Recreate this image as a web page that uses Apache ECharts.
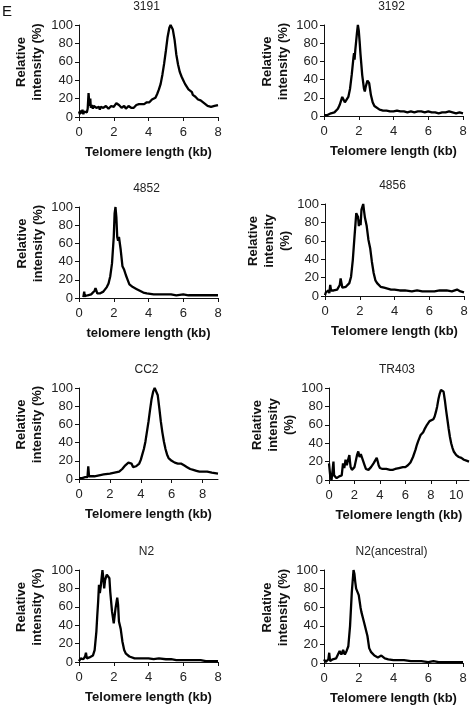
<!DOCTYPE html>
<html><head><meta charset="utf-8">
<script src="https://cdn.jsdelivr.net/npm/echarts@6/dist/echarts.min.js"></script>
<style>html,body{margin:0;padding:0;background:#fff}#c{width:473px;height:707px}</style>
</head><body><div id="c"></div>
<script>
// ---- data ----
const titles = ['3191','3192','4852','4856','CC2','TR403','N2','N2(ancestral)'];
const xNames = ['Telomere length (kb)','Telomere length (kb)','telomere length (kb)','Telomere length (kb)','Telomere length (kb)','Telomere length (kb)','Telomere length (kb)','Telomere length (kb)'];
const yNames = ['Relative\nintensity (%)','Relative\nintensity (%)','Relative\nintensity (%)','Relative\nintensity\n(%)','Relative\nintensity (%)','Relative\nintensity\n(%)','Relative\nintensity (%)','Relative\nintensity (%)'];
const xMax = [8,8,8,8,9,11,8,8];
const xTicks8 = [0,2,4,6,8];
const xTicks11 = [0,2,4,6,8,10];
const yTicks = [0,20,40,60,80,100];

const s3191 = [[0,6],[0.05,3],[0.1,7],[0.15,4],[0.2,8],[0.25,3],[0.3,6],[0.35,4],[0.4,7],[0.45,5],[0.5,9],[0.55,26],[0.58,18],[0.62,12],[0.65,20],[0.68,10],[0.75,13],[0.8,9],[0.85,12],[0.9,10],[0.95,13],[1.0,10],[1.05,8],[1.1,9],[1.15,11],[1.2,8],[1.25,11],[1.3,9],[1.35,12],[1.4,10],[1.45,11],[1.5,9],[1.55,12],[1.6,10],[1.65,12],[1.7,9],[1.75,11],[1.8,10],[1.85,12],[1.9,11],[1.95,13],[2.0,11],[2.05,12],[2.1,13],[2.15,15],[2.2,17],[2.25,14],[2.3,13],[2.35,11],[2.4,12],[2.45,10],[2.5,11],[2.55,9],[2.6,12],[2.65,10],[2.7,9],[2.75,11],[2.8,10],[2.85,12],[2.9,11],[2.95,13],[3.0,10],[3.05,12],[3.1,11],[3.15,10],[3.2,12],[3.25,11],[3.3,13],[3.35,11],[3.4,12],[3.45,14],[3.5,13],[3.55,12],[3.6,14],[3.65,13],[3.7,15],[3.75,14],[3.8,15],[3.85,14],[3.9,16],[3.95,15],[4.0,17],[4.05,16],[4.1,18],[4.15,17],[4.2,19],[4.25,18],[4.3,20],[4.4,21],[4.5,25],[4.6,30],[4.7,36],[4.8,46],[4.9,58],[5.0,72],[5.1,87],[5.2,97],[5.27,100],[5.33,100],[5.4,95],[5.5,84],[5.6,68],[5.7,57],[5.8,49],[5.9,44],[6.0,40],[6.1,36],[6.2,33],[6.3,30],[6.4,28],[6.5,27],[6.55,24],[6.6,25],[6.7,22],[6.8,21],[6.85,19],[6.9,20],[7.0,18],[7.05,16],[7.1,17],[7.2,15],[7.3,14],[7.4,12],[7.5,11],[7.6,11],[7.7,12],[7.8,12],[7.9,13],[8.0,13]];
const s3192 = [[0,1],[0.1,2],[0.2,1],[0.3,2],[0.4,3],[0.5,3],[0.6,4],[0.7,6],[0.8,8],[0.9,12],[1.0,18],[1.05,21],[1.1,20],[1.2,15],[1.25,13],[1.3,15],[1.4,21],[1.5,30],[1.6,46],[1.7,65],[1.73,69],[1.76,62],[1.8,72],[1.85,82],[1.9,92],[1.95,100],[2.0,94],[2.05,82],[2.1,68],[2.2,45],[2.3,30],[2.35,27],[2.4,32],[2.5,39],[2.55,41],[2.6,36],[2.7,23],[2.8,15],[2.9,11],[3.0,9],[3.2,7],[3.4,6],[3.6,6],[3.8,5],[4.0,5],[4.2,6],[4.4,5],[4.6,5],[4.8,4],[5.0,5],[5.2,4],[5.4,5],[5.6,5],[5.8,4],[6.0,5],[6.2,4],[6.4,4],[6.6,3],[6.8,4],[7.0,4],[7.2,5],[7.4,4],[7.6,3],[7.8,4],[8.0,3]];
const s4852 = [[0.25,1],[0.28,1],[0.3,7],[0.33,2],[0.4,2],[0.5,3],[0.6,3],[0.7,4],[0.8,5],[0.9,8],[0.95,11],[1.0,8],[1.05,5],[1.1,5],[1.2,5],[1.3,5],[1.4,7],[1.5,9],[1.6,12],[1.7,16],[1.8,24],[1.9,38],[2.0,67],[2.05,93],[2.1,100],[2.15,89],[2.2,67],[2.25,63],[2.3,67],[2.35,65],[2.4,53],[2.5,35],[2.6,31],[2.7,25],[2.8,20],[2.9,15],[3.0,13],[3.1,12],[3.2,11],[3.3,10],[3.4,9],[3.5,8],[3.7,6],[3.9,5],[4.0,4],[4.3,4],[4.6,4],[5.0,4],[5.3,4],[5.6,3],[6.0,4],[6.3,3],[6.6,3],[7.0,3],[7.3,3],[7.6,3],[8.0,3]];
const s4856 = [[0,1],[0.05,4],[0.1,2],[0.15,5],[0.2,6],[0.25,3],[0.3,12],[0.35,6],[0.4,4],[0.5,6],[0.6,5],[0.7,7],[0.8,8],[0.85,12],[0.9,19],[0.95,14],[1.0,9],[1.1,10],[1.2,10],[1.3,11],[1.4,14],[1.5,21],[1.6,39],[1.7,65],[1.8,90],[1.85,92],[1.9,86],[1.95,76],[2.0,83],[2.05,77],[2.1,94],[2.2,100],[2.25,92],[2.3,85],[2.4,76],[2.5,61],[2.6,52],[2.7,37],[2.8,25],[2.9,17],[3.0,14],[3.1,12],[3.2,10],[3.4,9],[3.6,8],[3.8,7],[4.0,7],[4.3,6],[4.6,6],[5.0,5],[5.3,6],[5.6,5],[6.0,5],[6.3,5],[6.6,6],[7.0,6],[7.3,5],[7.6,7],[7.8,5],[8.0,4]];
const sCC2 = [[0,1],[0.2,1],[0.4,2],[0.55,2],[0.6,14],[0.65,3],[0.8,3],[1.0,3],[1.3,4],[1.6,5],[2.0,6],[2.3,7],[2.6,8],[2.8,11],[3.0,15],[3.1,16],[3.2,18],[3.3,20],[3.4,17],[3.5,13],[3.6,13],[3.7,14],[3.8,15],[3.9,17],[4.0,21],[4.1,27],[4.2,33],[4.3,41],[4.4,52],[4.5,63],[4.6,76],[4.7,88],[4.8,96],[4.9,100],[5.0,99],[5.1,92],[5.2,78],[5.3,63],[5.4,51],[5.5,41],[5.6,33],[5.7,27],[5.8,23],[5.9,21],[6.0,20],[6.2,18],[6.4,17],[6.6,17],[6.8,15],[7.0,13],[7.2,11],[7.4,10],[7.6,9],[7.8,8],[8.0,8],[8.3,8],[8.6,7],[9.0,6]];
const sTR403 = [[0,18],[0.1,4],[0.2,0],[0.3,13],[0.35,20],[0.4,5],[0.5,3],[0.6,2],[0.7,3],[0.8,4],[0.9,3],[1.0,5],[1.1,18],[1.2,13],[1.3,22],[1.4,16],[1.5,22],[1.6,27],[1.65,20],[1.7,14],[1.8,11],[1.9,13],[2.0,14],[2.1,16],[2.2,27],[2.3,31],[2.4,25],[2.5,28],[2.6,24],[2.7,20],[2.8,16],[2.9,12],[3.0,10],[3.1,11],[3.2,12],[3.3,14],[3.4,16],[3.5,18],[3.6,20],[3.75,24],[3.85,19],[3.9,16],[4.0,13],[4.2,12],[4.5,12],[4.8,11],[5.0,11],[5.2,12],[5.5,13],[5.8,14],[6.0,14],[6.2,16],[6.4,19],[6.6,25],[6.8,33],[6.9,38],[7.0,42],[7.2,49],[7.4,52],[7.5,55],[7.7,60],[7.9,64],[8.0,65],[8.2,66],[8.3,69],[8.4,74],[8.5,80],[8.6,88],[8.7,94],[8.8,98],[8.9,99],[9.0,96],[9.1,87],[9.2,76],[9.3,66],[9.4,56],[9.5,47],[9.6,40],[9.7,35],[9.8,31],[10.0,27],[10.2,25],[10.4,24],[10.6,22],[10.8,21],[11.0,20]];
const sN2 = [[0,1],[0.05,3],[0.1,4],[0.15,2],[0.2,5],[0.25,3],[0.3,5],[0.35,6],[0.4,10],[0.45,4],[0.5,5],[0.6,5],[0.7,6],[0.8,7],[0.9,13],[1.0,33],[1.05,50],[1.1,65],[1.15,84],[1.2,75],[1.25,82],[1.3,91],[1.35,100],[1.4,91],[1.45,80],[1.5,89],[1.55,92],[1.6,95],[1.7,95],[1.75,91],[1.8,76],[1.9,55],[2.0,42],[2.05,44],[2.1,58],[2.2,70],[2.25,62],[2.3,44],[2.4,36],[2.5,22],[2.6,13],[2.7,9],[2.8,7],[2.9,6],[3.0,5],[3.2,4],[3.4,4],[3.6,4],[3.8,4],[4.0,4],[4.3,3],[4.6,4],[5.0,3],[5.3,3],[5.6,2],[6.0,2],[6.3,2],[6.6,2],[7.0,2],[7.3,1],[7.6,1],[8.0,1]];
const sN2anc = [[0,4],[0.05,2],[0.1,1],[0.2,3],[0.25,4],[0.3,11],[0.35,2],[0.4,3],[0.5,4],[0.6,4],[0.7,5],[0.8,7],[0.9,13],[1.0,9],[1.1,14],[1.2,9],[1.3,13],[1.4,18],[1.5,40],[1.6,76],[1.7,100],[1.75,96],[1.8,87],[1.85,80],[1.9,82],[2.0,73],[2.1,60],[2.15,55],[2.2,56],[2.3,44],[2.4,42],[2.5,29],[2.6,16],[2.7,12],[2.8,10],[2.9,8],[3.0,7],[3.1,6],[3.2,7],[3.3,8],[3.4,7],[3.5,5],[3.7,4],[4.0,3],[4.3,3],[4.6,3],[5.0,2],[5.3,2],[5.6,2],[6.0,1],[6.3,2],[6.6,1],[7.0,1],[7.3,1],[7.6,1],[8.0,1]];
const seriesData = [s3191,s3192,s4852,s4856,sCC2,sTR403,sN2,sN2anc];

// ---- layout ----
const grids = [
  {left:79, top:25, width:139, height:92},
  {left:324, top:25, width:139, height:91},
  {left:79, top:207, width:139, height:91},
  {left:325, top:204, width:139, height:92},
  {left:79, top:388, width:139, height:91},
  {left:329, top:388, width:140, height:92},
  {left:79, top:570, width:139, height:92},
  {left:324, top:570, width:139, height:93}
];
const yNameGap = [34,33,33,30,34,29,34,33];
const FONT = '"Liberation Sans", Arial, sans-serif';
const axisCol = '#111';

const chart = echarts.init(document.getElementById('c'), null, {renderer:'canvas'});
const option = {
  animation:false,
  backgroundColor:'#fff',
  grid: grids.map(g => ({left:g.left, top:g.top, width:g.width, height:g.height, containLabel:false})),
  xAxis: grids.map((g,i) => {
    const ticks = xMax[i] === 11 ? xTicks11 : xTicks8;
    return {
      type:'value', gridIndex:i, min:0, max:xMax[i],
      name:xNames[i], nameLocation:'middle', nameGap:29,
      nameTextStyle:{fontFamily:FONT, fontWeight:'bold', fontSize:13, color:'#111'},
      axisLine:{show:true, lineStyle:{color:axisCol, width:1}},
      axisTick:{show:true, length:4, lineStyle:{color:axisCol, width:1}, customValues:ticks},
      axisLabel:{fontFamily:FONT, fontSize:13, color:'#222', margin:9, customValues:ticks},
      splitLine:{show:false}
    };
  }),
  yAxis: grids.map((g,i) => ({
    type:'value', gridIndex:i, min:0, max:100,
    name:yNames[i], nameLocation:'middle', nameRotate:90, nameGap:yNameGap[i],
    nameTextStyle:{fontFamily:FONT, fontWeight:'bold', fontSize:13, color:'#111', lineHeight:16, padding:[0,0,0,18]},
    axisLine:{show:true, lineStyle:{color:axisCol, width:1}},
    axisTick:{show:true, length:4, lineStyle:{color:axisCol, width:1}, customValues:yTicks},
    axisLabel:{fontFamily:FONT, fontSize:13, color:'#222', margin:6, customValues:yTicks},
    splitLine:{show:false}
  })),
  series: seriesData.map((d,i) => ({
    type:'line', xAxisIndex:i, yAxisIndex:i, data:d, showSymbol:false, symbol:'none',
    lineStyle:{color:'#000', width:2.3}, smooth:false
  })),
  graphic: [
    {type:'text', x:2, y:4, style:{text:'E', font:'15px '+FONT, fill:'#111'}}
  ].concat(grids.map((g,i) => ({
    type:'text', x:g.left + g.width/2 - 2, y:g.top - 18,
    style:{text:titles[i], font:'12px '+FONT, fill:'#222', textAlign:'center', textVerticalAlign:'middle'}
  })))
};
chart.setOption(option);
</script>
</body></html>
